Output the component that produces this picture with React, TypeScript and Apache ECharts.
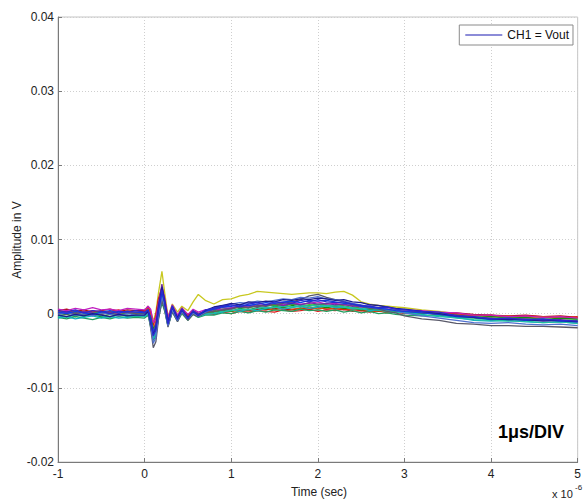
import React, { useEffect, useRef } from "react";
import * as echarts from "echarts";

// time axis in microseconds (axis shows x 10^-6)
const TIME_US = [
  -1, -0.9, -0.8, -0.7, -0.6, -0.5, -0.4, -0.3, -0.2, -0.1,
  0, 0.04, 0.07, 0.1, 0.13, 0.16, 0.2, 0.23, 0.27, 0.32, 0.38, 0.43, 0.5, 0.56, 0.62, 0.7,
  0.8, 0.9, 1.0, 1.1, 1.2, 1.3, 1.4, 1.5, 1.6, 1.7, 1.8, 1.9, 2.0, 2.1, 2.2, 2.3, 2.4, 2.5, 2.6, 2.7, 2.8, 2.9, 3.0,
  3.2, 3.4, 3.6, 3.8, 4.0, 4.2, 4.4, 4.6, 4.8, 5.0,
];

// traces in millivolts
const trace01 = [
  0.4, 0.2, 0.5, 0.1, 0.4, 0.3, 0.0, 0.3, 0.2, 0.4,
  0.2, 0.5, -1.0, -3.0, -2.2, 0.6, 3.2, 1.6, -1.4, 1.0, -0.8, 0.6, -0.7, 0.4, -0.2, 0.5,
  0.7, 1.0, 1.2, 0.9, 1.3, 1.5, 1.2, 1.6, 1.5, 1.4, 1.8, 1.6, 1.9, 1.6, 1.5, 1.6, 1.3, 1.1, 1.0, 0.8, 0.9, 0.6, 0.5,
  0.3, 0.2, -0.3, -0.4, -0.7, -0.6, -0.8, -0.7, -0.9, -1.0,
];
const trace02 = [
  -0.3, -0.1, -0.4, 0.0, -0.2, -0.4, -0.1, -0.3, -0.2, -0.4,
  -0.3, 0.1, -0.4, -2.0, -1.6, 0.2, 2.6, 1.2, -1.1, 0.8, -0.6, 0.5, -0.5, 0.2, -0.2, 0.1,
  0.1, 0.4, 0.3, 0.7, 0.5, 0.8, 0.6, 1.0, 0.8, 1.1, 0.9, 1.2, 1.0, 0.8, 1.0, 0.7, 0.8, 0.5, 0.6, 0.4, 0.5, 0.2, 0.3,
  0.1, -0.1, -0.2, -0.5, -0.4, -0.6, -0.5, -0.8, -0.6, -0.7,
];
const trace03 = [
  0.1, 0.3, 0.0, 0.2, 0.4, 0.1, 0.3, 0.5, 0.1, 0.2,
  0.3, 0.9, 0.2, -1.6, -0.2, 2.0, 3.6, 2.0, -0.6, 0.6, -0.7, 0.3, -0.4, 0.3, -0.1, 0.0,
  -0.1, 0.2, 0.0, 0.3, 0.2, 0.4, 0.3, 0.2, 0.5, 0.3, 0.4, 0.6, 0.3, 0.5, 0.4, 0.6, 0.3, 0.4, 0.2, 0.4, 0.1, 0.2, 0.0,
  0.1, -0.1, 0.0, -0.3, -0.2, -0.5, -0.3, -0.4, -0.6, -0.4,
];
const trace04 = [
  -0.6, -0.4, -0.7, -0.5, -0.3, -0.6, -0.4, -0.6, -0.5, -0.3,
  -0.4, 0.0, -1.6, -3.4, -2.8, -0.4, 1.8, 0.8, -1.7, 0.4, -1.0, 0.2, -0.8, 0.1, -0.4, -0.1,
  0.0, 0.2, 0.5, 0.3, 0.6, 0.4, 0.7, 0.9, 0.6, 0.8, 1.0, 0.7, 0.9, 1.1, 0.8, 0.9, 0.6, 0.7, 0.4, 0.5, 0.3, 0.1, 0.2,
  -0.1, -0.4, -0.5, -0.9, -1.0, -0.9, -1.1, -1.2, -1.1, -1.3,
];
const trace05 = [
  0.6, 0.4, 0.7, 0.5, 0.8, 0.5, 0.6, 0.4, 0.7, 0.6,
  0.5, 1.0, 0.6, -1.2, -0.6, 1.4, 3.4, 2.2, -0.5, 1.2, -0.2, 0.8, -0.1, 0.6, 0.2, 0.5,
  0.6, 0.5, 0.8, 1.0, 0.9, 1.2, 1.1, 1.3, 1.2, 1.5, 1.3, 1.4, 1.6, 1.3, 1.4, 1.2, 1.1, 0.9, 1.0, 0.7, 0.8, 0.6, 0.5,
  0.4, 0.2, 0.1, -0.2, -0.2, -0.4, -0.3, -0.5, -0.4, -0.6,
];
const trace06 = [
  0.2, 0.4, 0.1, 0.3, 0.2, 0.0, 0.3, 0.1, 0.2, 0.1,
  0.1, 0.6, 0.4, -1.0, 0.2, 2.8, 5.7, 3.0, -0.4, 1.3, 0.2, 1.0, 0.4, 1.6, 2.6, 1.8,
  1.3, 1.9, 2.0, 2.4, 2.6, 3.0, 2.9, 2.8, 2.7, 2.6, 2.7, 2.8, 2.8, 2.7, 2.9, 3.0, 2.5, 1.6, 1.3, 1.1, 1.0, 0.9, 0.8,
  0.5, 0.3, 0.0, -0.2, -0.3, -0.4, -0.5, -0.5, -0.6, -0.6,
];
const trace07 = [
  0.1, -0.1, 0.2, -0.2, 0.0, -0.1, 0.1, -0.2, 0.0, 0.1,
  0.0, 0.4, -2.0, -4.6, -3.8, -0.8, 1.8, 0.6, -1.8, 0.3, -1.1, 0.2, -0.9, -0.1, -0.4, 0.1,
  0.3, 0.5, 0.6, 0.9, 0.8, 1.1, 1.0, 1.3, 1.4, 1.6, 1.9, 2.4, 2.6, 2.2, 1.9, 1.6, 1.2, 1.0, 0.7, 0.6, 0.3, 0.1, -0.3,
  -0.7, -0.9, -1.3, -1.4, -1.6, -1.6, -1.7, -1.7, -1.8, -1.9,
];
const trace08 = [
  -0.2, -0.4, -0.1, -0.3, 0.0, -0.2, -0.4, -0.1, -0.3, -0.2,
  -0.2, 0.3, -1.2, -2.8, -2.0, 0.8, 3.6, 1.8, -1.2, 0.9, -0.6, 0.5, -0.5, 0.3, -0.2, 0.4,
  0.9, 1.1, 1.4, 1.2, 1.6, 1.5, 1.7, 1.6, 1.9, 1.8, 2.0, 1.9, 2.1, 2.0, 1.8, 1.9, 1.6, 1.5, 1.2, 1.1, 0.9, 0.7, 0.6,
  0.3, 0.0, -0.3, -0.5, -0.7, -0.8, -0.8, -1.0, -0.9, -1.1,
];
const trace09 = [
  -0.5, -0.7, -0.4, -0.6, -0.8, -0.5, -0.7, -0.4, -0.6, -0.5,
  -0.6, -0.2, -1.8, -3.6, -3.0, -0.6, 1.5, 0.4, -1.6, 0.2, -1.0, 0.0, -0.9, -0.1, -0.5, -0.2,
  -0.2, 0.1, 0.0, 0.3, 0.1, 0.4, 0.2, 0.5, 0.4, 0.3, 0.6, 0.4, 0.5, 0.3, 0.5, 0.2, 0.4, 0.1, 0.3, 0.0, 0.1, -0.1, -0.2,
  -0.3, -0.2, -0.5, -0.6, -0.8, -0.7, -0.9, -0.8, -1.0, -0.9,
];
const trace10 = [
  0.3, 0.1, 0.4, 0.2, 0.0, 0.3, 0.1, 0.4, 0.2, 0.0,
  0.1, 0.7, -0.2, -2.2, -1.0, 1.6, 3.0, 1.4, -1.0, 0.8, -0.5, 0.6, -0.4, 0.3, -0.1, 0.2,
  0.3, 0.2, 0.4, 0.3, 0.6, 0.4, 0.7, 0.5, 0.8, 0.6, 0.7, 0.9, 0.6, 0.8, 0.6, 0.7, 0.5, 0.6, 0.3, 0.4, 0.2, 0.3, 0.1,
  0.0, 0.1, -0.2, -0.2, -0.4, -0.3, -0.5, -0.4, -0.6, -0.5,
];
const trace11 = [
  0.0, 0.2, -0.1, 0.3, 0.1, -0.1, 0.2, 0.0, 0.3, 0.1,
  0.0, 0.6, -0.8, -2.6, -1.4, 1.3, 4.0, 2.0, -0.9, 1.1, -0.5, 0.7, -0.5, 0.4, 0.0, 0.3,
  0.5, 0.8, 0.7, 1.0, 1.1, 0.9, 1.2, 1.3, 1.1, 1.4, 1.2, 1.5, 1.3, 1.4, 1.2, 1.3, 1.0, 1.1, 0.8, 0.7, 0.6, 0.4, 0.3,
  0.2, -0.1, -0.2, -0.5, -0.6, -0.8, -0.7, -0.9, -0.8, -1.0,
];
const trace12 = [
  -0.1, 0.1, -0.2, 0.0, -0.3, 0.1, -0.1, -0.3, 0.0, -0.2,
  -0.2, 0.2, -1.5, -4.0, -3.2, -0.3, 2.3, 1.0, -1.6, 0.5, -0.9, 0.3, -0.7, 0.1, -0.3, 0.2,
  0.8, 1.1, 1.3, 1.5, 1.4, 1.7, 1.6, 1.8, 2.0, 1.9, 2.2, 2.1, 2.3, 2.0, 1.9, 1.7, 1.4, 1.2, 0.9, 0.8, 0.5, 0.4, 0.1,
  -0.3, -0.6, -0.9, -1.2, -1.3, -1.2, -1.4, -1.5, -1.4, -1.6,
];
const trace13 = [
  0.2, 0.0, 0.3, 0.1, -0.1, 0.2, 0.4, 0.1, 0.3, 0.2,
  0.1, 0.5, -0.6, -2.4, -1.8, 0.4, 2.8, 1.6, -1.2, 0.9, -0.6, 0.5, -0.6, 0.3, -0.2, 0.3,
  0.6, 0.9, 1.0, 1.2, 1.1, 1.3, 1.5, 1.4, 1.6, 1.7, 1.5, 1.8, 1.7, 1.8, 1.6, 1.4, 1.3, 1.0, 0.9, 0.7, 0.6, 0.4, 0.3,
  0.1, -0.1, -0.4, -0.5, -0.8, -0.7, -0.9, -0.8, -1.0, -1.1,
];
const trace14 = [
  -0.1, 0.1, 0.0, -0.2, 0.1, 0.2, 0.0, -0.1, 0.1, -0.1,
  0.0, 0.3, -0.9, -2.9, -2.4, 0.0, 2.4, 1.1, -1.3, 0.6, -0.8, 0.3, -0.6, 0.2, -0.3, 0.0,
  0.4, 0.6, 0.7, 0.9, 0.8, 1.0, 1.2, 1.1, 1.0, 1.3, 1.2, 1.1, 1.3, 1.2, 1.0, 1.1, 0.8, 0.9, 0.6, 0.7, 0.4, 0.5, 0.2,
  0.1, 0.0, -0.3, -0.4, -0.6, -0.6, -0.7, -0.7, -0.9, -0.8,
];
const trace15 = [
  0.4, 0.6, 0.3, 0.5, 0.2, 0.4, 0.6, 0.3, 0.5, 0.4,
  0.4, 1.0, 0.0, -1.4, -0.4, 1.8, 3.3, 1.8, -0.7, 0.9, -0.3, 0.5, -0.2, 0.4, 0.0, 0.2,
  0.2, 0.4, 0.3, 0.5, 0.4, 0.6, 0.5, 0.7, 0.6, 0.5, 0.7, 0.6, 0.8, 0.6, 0.7, 0.5, 0.6, 0.4, 0.5, 0.3, 0.4, 0.2, 0.3,
  0.2, 0.0, 0.1, -0.1, -0.2, -0.3, -0.2, -0.4, -0.3, -0.5,
];
const trace16 = [
  -0.3, -0.5, -0.2, -0.4, -0.1, -0.3, -0.5, -0.2, -0.4, -0.3,
  -0.3, 0.1, -1.4, -3.2, -2.6, -0.2, 2.0, 0.9, -1.5, 0.4, -0.9, 0.2, -0.7, 0.0, -0.4, 0.0,
  0.1, 0.3, 0.4, 0.6, 0.5, 0.7, 0.9, 0.8, 1.0, 0.9, 1.1, 1.0, 1.2, 1.0, 1.1, 0.9, 0.8, 0.6, 0.7, 0.5, 0.3, 0.2, 0.1,
  -0.2, -0.3, -0.6, -0.8, -0.9, -1.0, -1.0, -1.2, -1.1, -1.3,
];

const TRACE_NAMES = [
  "CH1 = Vout", "t02", "t03", "t04", "t05", "t06", "t07", "t08",
  "t09", "t10", "t11", "t12", "t13", "t14", "t15", "t16",
];
const TRACES = [
  trace01, trace02, trace03, trace04, trace05, trace06, trace07, trace08,
  trace09, trace10, trace11, trace12, trace13, trace14, trace15, trace16,
];
const TRACE_COLORS = [
  "#2a2ad0", "#129012", "#e01818", "#10b0c0", "#c020c0", "#c8c820", "#5a5a6a", "#1c1c90",
  "#20a060", "#d05010", "#7030a0", "#5070d0", "#1040e0", "#30b030", "#b01010", "#20c0a0",
];
// drawing order (last drawn on top)
const DRAW_ORDER = [5, 14, 2, 9, 1, 13, 8, 3, 15, 4, 10, 6, 11, 12, 7, 0];

const X_TICKS = [-1, 0, 1, 2, 3, 4, 5];
const Y_MIN = -0.02;
const Y_MAX = 0.04;
const Y_STEP = 0.01;

const FONT = "Liberation Sans, Arial, Helvetica, sans-serif";

export default function App() {
  const ref = useRef<HTMLDivElement>(null);

  useEffect(() => {
    if (!ref.current) return;
    const chart = echarts.init(ref.current, undefined, { renderer: "svg" });

    const series = DRAW_ORDER.map((idx) => ({
      name: TRACE_NAMES[idx],
      type: "line",
      data: TIME_US.map((t, i) => [t, TRACES[idx][i] / 1000]),
      showSymbol: false,
      symbol: "none",
      lineStyle: { width: 1.3, color: TRACE_COLORS[idx] },
      itemStyle: { color: TRACE_COLORS[idx] },
      emphasis: { disabled: true },
      z: 3,
    }));

    chart.setOption({
      animation: false,
      textStyle: { fontFamily: FONT },
      grid: {
        left: 58,
        right: 5,
        top: 17,
        bottom: 38,
        show: true,
        borderColor: "#c4c4c4",
        borderWidth: 1,
        backgroundColor: "#fff",
      },
      xAxis: {
        type: "value",
        min: X_TICKS[0],
        max: X_TICKS[X_TICKS.length - 1],
        interval: 1,
        axisLine: { show: true, onZero: false, lineStyle: { color: "#7a7a7a", width: 1 } },
        axisTick: { show: true, inside: true, length: 4, lineStyle: { color: "#7a7a7a" } },
        axisLabel: { color: "#222", fontSize: 12, margin: 6, fontFamily: FONT },
        splitLine: { show: true, lineStyle: { color: "#cfcfcf", type: [1, 2], width: 1 } },
      },
      yAxis: {
        type: "value",
        min: Y_MIN,
        max: Y_MAX,
        interval: Y_STEP,
        axisLine: { show: true, onZero: false, lineStyle: { color: "#7a7a7a", width: 1 } },
        axisTick: { show: true, inside: true, length: 4, lineStyle: { color: "#7a7a7a" } },
        axisLabel: {
          color: "#222",
          fontSize: 12,
          margin: 4,
          fontFamily: FONT,
          formatter: (v: number) => {
            const r = Math.round(v * 100) / 100;
            return r === 0 ? "0" : String(r);
          },
        },
        splitLine: { show: true, lineStyle: { color: "#cfcfcf", type: [1, 2], width: 1 } },
      },
      legend: {
        right: 11,
        top: 25,
        orient: "horizontal",
        backgroundColor: "#fff",
        borderColor: "#8a8a8a",
        borderWidth: 1,
        borderRadius: 0,
        padding: [4, 4, 4, 6],
        itemWidth: 37,
        itemHeight: 2,
        icon: "rect",
        selectedMode: false,
        data: [{ name: "CH1 = Vout", itemStyle: { color: "#8c8cd8" } }],
        textStyle: { fontSize: 12, color: "#111", fontFamily: FONT },
      },
      graphic: [
        {
          type: "text",
          x: 17,
          y: 240,
          rotation: Math.PI / 2,
          style: {
            text: "Amplitude in V",
            fontSize: 12,
            fontFamily: FONT,
            fill: "#222",
            align: "center",
            verticalAlign: "middle",
          },
        },
        {
          type: "text",
          x: 319,
          y: 492,
          style: {
            text: "Time (sec)",
            fontSize: 12,
            fontFamily: FONT,
            fill: "#222",
            align: "center",
            verticalAlign: "middle",
          },
        },
        {
          type: "text",
          x: 552,
          y: 494,
          style: {
            text: "x 10",
            fontSize: 11,
            fontFamily: FONT,
            fill: "#222",
            align: "left",
            verticalAlign: "middle",
          },
        },
        {
          type: "text",
          x: 575,
          y: 487,
          style: {
            text: "-6",
            fontSize: 8,
            fontFamily: FONT,
            fill: "#222",
            align: "left",
            verticalAlign: "middle",
          },
        },
        {
          type: "text",
          x: 498,
          y: 432,
          z: 10,
          style: {
            text: "1μs/DIV",
            fontSize: 18,
            fontWeight: "bold",
            fontFamily: FONT,
            fill: "#000",
            align: "left",
            verticalAlign: "middle",
          },
        },
      ],
      series,
    });

    return () => chart.dispose();
  }, []);

  return (
    <div
      ref={ref}
      style={{ position: "absolute", left: 0, top: 0, width: 584, height: 500, background: "#fff" }}
    />
  );
}
